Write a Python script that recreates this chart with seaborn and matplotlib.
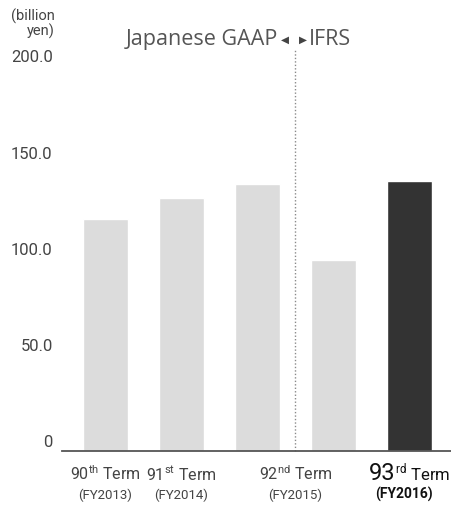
import matplotlib
matplotlib.use("Agg")
import matplotlib.pyplot as plt
import seaborn as sns
import pandas as pd
from matplotlib.offsetbox import TextArea, HPacker, AnnotationBbox

# Net sales per fiscal period (billion yen); FY2015 is reported under both standards
periods = ["FY2013", "FY2014", "FY2015 JGAAP", "FY2015 IFRS", "FY2016"]
values = [120.5, 131.3, 138.7, 99.2, 140.3]
bar_colors = ["#dcdcdc", "#dcdcdc", "#dcdcdc", "#dcdcdc", "#333333"]
y_ticks = [0, 50, 100, 150, 200]
y_tick_labels = ["0", "50.0", "100.0", "150.0", "200.0"]
term_numbers = ["90", "91", "92", "93"]
term_suffixes = ["th", "st", "nd", "rd"]
fiscal_years = ["FY2013", "FY2014", "FY2015", "FY2016"]
unit_label = "(billion\nyen)"
left_standard = "Japanese GAAP"
right_standard = "IFRS"

sns.set_theme(style="white")
plt.rcParams["font.family"] = ["Roboto", "DejaVu Sans"]
plt.rcParams["mathtext.fontset"] = "custom"
plt.rcParams["mathtext.rm"] = "Roboto"

TEXT = "#444444"

fig = plt.figure(figsize=(4.52, 5.07), dpi=100)
ax = fig.add_axes([0.1365, 0.1105, 0.8635, 0.7594])

df = pd.DataFrame({"period": periods, "value": values})
sns.barplot(data=df, x="period", y="value", hue="period",
            palette=bar_colors, width=0.6, legend=False, ax=ax,
            saturation=1.0)

ax.set_xlim(-0.576, 4.56)
ax.set_ylim(0, 200)
ax.set_xlabel("")
ax.set_ylabel("")
ax.set_xticks([])
ax.set_yticks([])
for side in ["top", "right", "left"]:
    ax.spines[side].set_visible(False)
ax.spines["bottom"].set_color("#555555")
ax.spines["bottom"].set_linewidth(1.3)

# y-axis value labels, sitting just above their gridline level
for v, lab in zip(y_ticks, y_tick_labels):
    ax.annotate(lab, xy=(0, v), xycoords=("axes fraction", "data"),
                xytext=(-9, 8), textcoords="offset pixels",
                ha="right", va="center", fontsize=12, color=TEXT,
                annotation_clip=False)

fig.text(55 / 452, 1 - 9 / 507, unit_label, ha="right", va="top",
         fontsize=10.5, color=TEXT, linespacing=0.95)

# divider between accounting standards
ifrs_start = next(i for i, p in enumerate(periods) if "IFRS" in p)
divider = ifrs_start - 0.5
ax.plot([divider, divider], [0, 209], color="#8a8a8a", lw=1.0,
        ls=(0, (1, 1.5)), clip_on=False)

title_y = 213.5
title_font = dict(fontsize=15.5, color="#555555", family="Open Sans")
ax.annotate(left_standard, xy=(divider, title_y), xytext=(-17, 0),
            textcoords="offset pixels", ha="right", va="center",
            annotation_clip=False, **title_font)
ax.annotate("\u25C0", xy=(divider, title_y), xytext=(-10, 0),
            textcoords="offset pixels", ha="center", va="center",
            fontsize=7.5, color="#444444", family="DejaVu Sans",
            annotation_clip=False)
ax.annotate("\u25B6", xy=(divider, title_y), xytext=(8, 0),
            textcoords="offset pixels", ha="center", va="center",
            fontsize=7.5, color="#444444", family="DejaVu Sans",
            annotation_clip=False)
ax.annotate(right_standard, xy=(divider, title_y), xytext=(13, 0),
            textcoords="offset pixels", ha="left", va="center",
            annotation_clip=False, **title_font)

# period labels centred under the bars of each fiscal year
for k, fy in enumerate(fiscal_years):
    idx = [i for i, p in enumerate(periods) if p.split()[0] == fy]
    xc = sum(idx) / len(idx)
    last = k == len(fiscal_years) - 1
    if last:
        parts = [TextArea(term_numbers[k], textprops=dict(fontsize=17, color="#111111")),
                 TextArea(r"$^{\mathrm{" + term_suffixes[k] + r"}}$ Term",
                          textprops=dict(fontsize=12, color="#111111"))]
        box = HPacker(children=parts, align="baseline", pad=0, sep=0)
        ab = AnnotationBbox(box, (xc, 0), xycoords="data",
                            xybox=(0, -22), boxcoords="offset pixels",
                            frameon=False, box_alignment=(0.5, 0.5),
                            annotation_clip=False)
        ax.add_artist(ab)
        ax.annotate("(" + fy + ")", xy=(xc, 0), xytext=(-6, -44),
                    textcoords="offset pixels", ha="center", va="center",
                    fontsize=10, fontweight="bold", color="#111111",
                    annotation_clip=False)
    else:
        ax.annotate(term_numbers[k] + r"$^{\mathrm{" + term_suffixes[k] + r"}}$ Term",
                    xy=(xc, 0), xytext=(0, -23), textcoords="offset pixels",
                    ha="center", va="center", fontsize=11.5, color=TEXT,
                    annotation_clip=False)
        ax.annotate("(" + fy + ")", xy=(xc, 0), xytext=(0, -44),
                    textcoords="offset pixels", ha="center", va="center",
                    fontsize=9.5, color=TEXT, annotation_clip=False)

fig.savefig("out.png", dpi=100)
